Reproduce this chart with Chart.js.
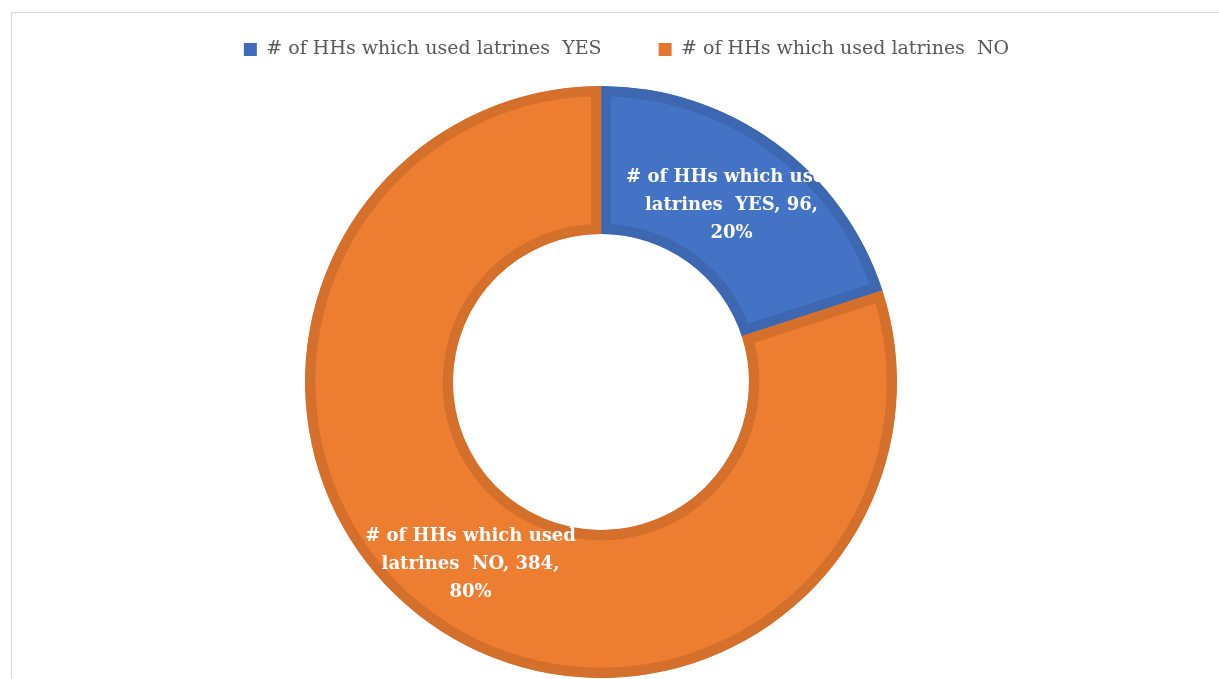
<!DOCTYPE html>
<html>
<head>
<meta charset="utf-8">
<title>Latrine use</title>
<script src="https://cdn.jsdelivr.net/npm/chart.js@4"></script>
<style>
  html, body { margin: 0; padding: 0; background: #ffffff; overflow: hidden; width: 1219px; height: 679px; }
  #frame { position: absolute; left: 11px; top: 12px; width: 1300px; height: 800px; border: 1px solid #d6d6d6; box-sizing: border-box; }
  #chart { position: absolute; left: 0; top: -17px; }
</style>
</head>
<body>
<div id="frame"></div>
<canvas id="chart" width="1253" height="712"></canvas>
<script>
// Households by latrine use
const categories = ['# of HHs which used latrines  YES', '# of HHs which used latrines  NO'];
const households = [96, 384];
const fillColors = ['#4472C4', '#ED7D31'];
const edgeColors = ['#3D67B1', '#D5702C'];
const keyColors = ['#416BBA', '#E3772F'];

// Greedy word wrap; a double space between words is kept as typed
function wrapText(ctx, text, maxWidth) {
  const words = text.split(' ');
  const lines = [];
  let line = '';
  for (const w of words) {
    const test = line === '' ? w : line + ' ' + w;
    if (line !== '' && ctx.measureText(test).width > maxWidth) {
      lines.push(line);
      line = w;
    } else {
      line = test;
    }
  }
  if (line) lines.push(line);
  return lines;
}

// "Category, value, percent" label placed in the middle of each slice
const sliceLabels = {
  id: 'sliceLabels',
  afterDatasetsDraw(chart) {
    const ctx = chart.ctx;
    const meta = chart.getDatasetMeta(0);
    const values = chart.data.datasets[0].data;
    const total = values.reduce((a, b) => a + b, 0);
    ctx.save();
    ctx.font = 'bold 18px "DejaVu Serif", serif';
    ctx.fillStyle = '#ffffff';
    ctx.textAlign = 'center';
    ctx.textBaseline = 'middle';
    meta.data.forEach((arc, i) => {
      const pos = arc.tooltipPosition();
      const lines = wrapText(ctx, chart.data.labels[i] + ', ' + values[i] + ',', 240);
      lines.push(Math.round(values[i] / total * 100) + '%');
      const lh = 28;
      const y0 = pos.y + 3 - (lines.length - 1) * lh / 2;
      lines.forEach((t, k) => ctx.fillText(t, pos.x, y0 + k * lh));
    });
    ctx.restore();
  }
};

new Chart(document.getElementById('chart'), {
  type: 'doughnut',
  data: {
    labels: categories,
    datasets: [{
      data: households,
      backgroundColor: fillColors,
      borderColor: edgeColors,
      borderWidth: 10,
      borderAlign: 'inner',
      borderJoinStyle: 'miter',
      hoverOffset: 0
    }]
  },
  options: {
    responsive: false,
    animation: false,
    events: [],
    radius: 296,
    cutout: '50%',
    plugins: {
      tooltip: { enabled: false },
      // empty spacer on the right keeps the ring left of the legend's centre
      title: {
        display: true,
        position: 'right',
        text: ' ',
        padding: 0,
        font: { size: 10, lineHeight: 5.1 }
      },
      legend: {
        position: 'top',
        align: 'center',
        labels: {
          boxWidth: 13,
          boxHeight: 13,
          padding: 57,
          color: '#595959',
          font: { family: '"DejaVu Serif", serif', size: 19 },
          generateLabels(chart) {
            const items = Chart.overrides.doughnut.plugins.legend.labels.generateLabels(chart);
            items.forEach((it, i) => {
              it.fillStyle = keyColors[i];
              it.lineWidth = 0;
            });
            return items;
          }
        }
      }
    }
  },
  plugins: [sliceLabels]
});
</script>
</body>
</html>
